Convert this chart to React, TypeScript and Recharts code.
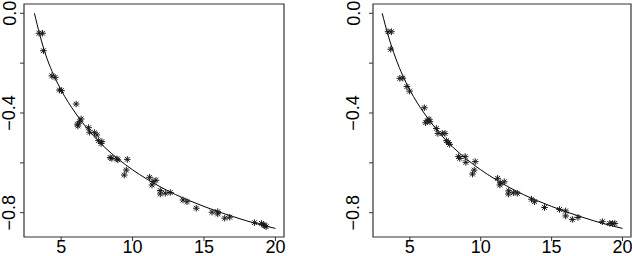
import React from "react";
import { ComposedChart, Scatter, Line, XAxis, YAxis, ReferenceArea } from "recharts";

const xTicks = [5, 10, 15, 20];
const yTicks = [0, -0.2, -0.4, -0.6, -0.8];
const yTickLabels = ["0.0", "", "\u22120.4", "", "\u22120.8"];

const leftX = [3.45, 3.7, 3.76, 4.35, 4.58, 4.88, 5.02, 6.05, 6.4, 6.29, 6.17, 6.15, 6.92, 6.99, 7.34, 7.5, 7.62, 7.8, 7.85, 8.43, 8.55, 8.9, 8.97, 9.63, 9.56, 9.42, 11.19, 11.43, 11.64, 11.36, 11.94, 11.94, 12.29, 12.64, 13.53, 13.81, 14.46, 15.56, 15.96, 15.96, 16.45, 16.8, 18.53, 19.02, 19.18, 19.35, 19.25];
const leftY = [-0.08, -0.08, -0.15, -0.251, -0.257, -0.308, -0.31, -0.364, -0.424, -0.435, -0.452, -0.445, -0.459, -0.477, -0.479, -0.488, -0.511, -0.522, -0.515, -0.579, -0.582, -0.584, -0.588, -0.586, -0.629, -0.649, -0.658, -0.675, -0.67, -0.689, -0.711, -0.725, -0.722, -0.719, -0.749, -0.756, -0.782, -0.798, -0.796, -0.805, -0.822, -0.818, -0.84, -0.843, -0.849, -0.856, -0.852];

const rightX = [3.46, 3.7, 3.65, 4.29, 4.5, 4.79, 4.98, 6.02, 6.11, 6.23, 6.35, 6.42, 6.87, 6.98, 7.29, 7.48, 7.58, 7.72, 7.81, 8.43, 8.52, 8.9, 8.95, 9.61, 9.54, 9.42, 11.19, 11.35, 11.38, 11.66, 11.97, 11.95, 12.3, 12.58, 13.58, 13.79, 14.5, 15.56, 15.99, 15.99, 16.46, 16.86, 18.58, 19.1, 19.29, 19.46];
const rightY = [-0.074, -0.074, -0.144, -0.261, -0.26, -0.294, -0.312, -0.379, -0.439, -0.431, -0.425, -0.435, -0.462, -0.482, -0.482, -0.482, -0.511, -0.519, -0.526, -0.575, -0.582, -0.575, -0.598, -0.595, -0.629, -0.645, -0.662, -0.689, -0.68, -0.676, -0.712, -0.725, -0.72, -0.722, -0.746, -0.756, -0.779, -0.787, -0.793, -0.813, -0.827, -0.819, -0.836, -0.843, -0.843, -0.843];

const curveXLeft = [3.13, 3.5, 4, 4.5, 5, 6, 7, 8, 9, 10, 11, 12, 13, 14, 15, 16, 17, 18, 19, 20];
const curveXRight = [3.05, 3.45, 4, 4.5, 5, 6, 7, 8, 9, 10, 11, 12, 13, 14, 15, 16, 17, 18, 19, 20];
const curveY = [0, -0.085, -0.18, -0.25, -0.308, -0.4, -0.474, -0.535, -0.585, -0.628, -0.665, -0.698, -0.727, -0.752, -0.775, -0.796, -0.815, -0.833, -0.849, -0.863];

const X_DOMAIN: [number, number] = [2.4, 20.6];
const Y_DOMAIN: [number, number] = [-0.8975, 0.0373];

const FONT = "'Liberation Sans', Arial, Helvetica, sans-serif";

const zip = (xs: number[], ys: number[]) => xs.map((x, i) => ({ x, y: ys[i] }));

const StarShape = (props: any) => {
  const { cx, cy } = props;
  if (cx == null || cy == null) return null;
  const r = 3.3;
  const d = r * 0.72;
  return (
    <g stroke="#1a1a1a" strokeWidth={1}>
      <line x1={cx - r} y1={cy} x2={cx + r} y2={cy} />
      <line x1={cx} y1={cy - r} x2={cx} y2={cy + r} />
      <line x1={cx - d} y1={cy - d} x2={cx + d} y2={cy + d} />
      <line x1={cx - d} y1={cy + d} x2={cx + d} y2={cy - d} />
    </g>
  );
};

const XTick = (props: any) => {
  const { x, y, payload } = props;
  return (
    <text x={x} y={y + 10} textAnchor="middle" fontFamily={FONT} fontSize={18} fill="#000">
      {payload.value}
    </text>
  );
};

const makeYTick = (shift: number) => (props: any) => {
  const { x, y, payload } = props;
  const idx = yTicks.findIndex((t) => Math.abs(t - payload.value) < 1e-9);
  const label = idx >= 0 ? yTickLabels[idx] : "";
  if (!label) return <g />;
  const bx = x + shift;
  return (
    <text
      x={bx}
      y={y}
      transform={`rotate(-90, ${bx}, ${y})`}
      textAnchor="middle"
      fontFamily={FONT}
      fontSize={18}
      fill="#000"
    >
      {label}
    </text>
  );
};

const Panel = ({
  pts,
  curve,
  yAxisWidth,
  rightMargin,
  labelShift,
}: {
  pts: { x: number; y: number }[];
  curve: { x: number; y: number }[];
  yAxisWidth: number;
  rightMargin: number;
  labelShift: number;
}) => (
  <ComposedChart width={316} height={256} margin={{ top: 4, right: rightMargin, bottom: 0, left: 0 }}>
    <XAxis
      dataKey="x"
      type="number"
      domain={X_DOMAIN}
      allowDataOverflow
      ticks={xTicks}
      axisLine={false}
      tickSize={4}
      tickLine={{ stroke: "#333" }}
      tick={XTick}
      height={19}
      interval={0}
    />
    <YAxis
      dataKey="y"
      type="number"
      domain={Y_DOMAIN}
      allowDataOverflow
      ticks={yTicks}
      axisLine={false}
      tickSize={4}
      tickLine={{ stroke: "#333" }}
      tick={makeYTick(labelShift)}
      width={yAxisWidth}
      interval={0}
    />
    <ReferenceArea
      x1={X_DOMAIN[0]}
      x2={X_DOMAIN[1]}
      y1={Y_DOMAIN[0]}
      y2={Y_DOMAIN[1]}
      fill="none"
      fillOpacity={0}
      stroke="#333"
      strokeWidth={1.2}
      ifOverflow="visible"
    />
    <Line
      data={curve}
      dataKey="y"
      type="monotone"
      stroke="#000"
      strokeWidth={1}
      dot={false}
      activeDot={false}
      isAnimationActive={false}
    />
    <Scatter data={pts} dataKey="y" shape={StarShape} isAnimationActive={false} />
  </ComposedChart>
);

export default function App() {
  return (
    <div style={{ position: "absolute", left: 0, top: 0, width: 632, height: 256, background: "#fff" }}>
      <div style={{ position: "absolute", left: 0, top: 0 }}>
        <Panel pts={zip(leftX, leftY)} curve={zip(curveXLeft, curveY)} yAxisWidth={24} rightMargin={32} labelShift={-2.5} />
      </div>
      <div style={{ position: "absolute", left: 316, top: 0 }}>
        <Panel pts={zip(rightX, rightY)} curve={zip(curveXRight, curveY)} yAxisWidth={57} rightMargin={1} labelShift={-7.5} />
      </div>
    </div>
  );
}
